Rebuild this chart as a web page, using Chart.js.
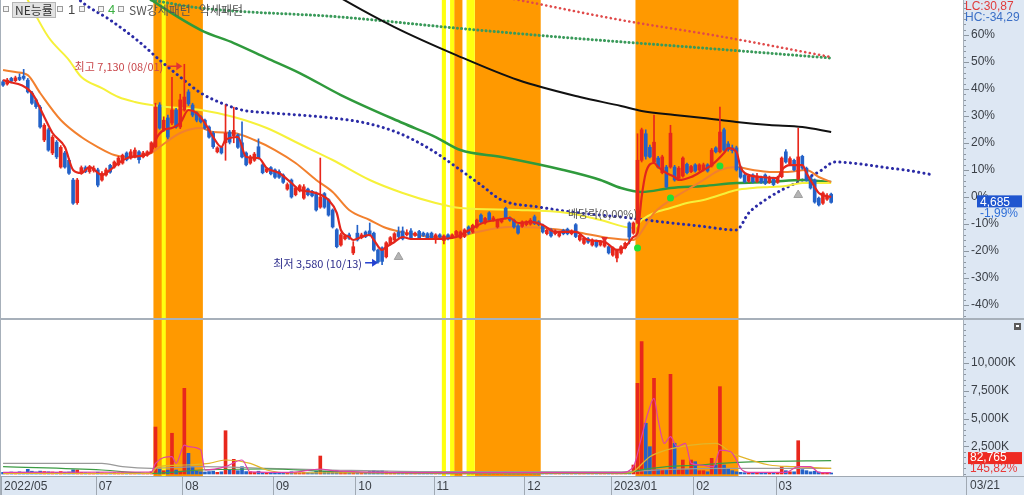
<!DOCTYPE html>
<html>
<head>
<meta charset="utf-8">
<script src="https://cdn.jsdelivr.net/npm/chart.js@4.4.0/dist/chart.umd.min.js"></script>
<style>
  html, body { margin: 0; padding: 0; background: #fff; width: 1024px; height: 495px; overflow: hidden; }
  canvas { position: absolute; left: 0; }
  #price { top: 0; }
  #volume { top: 319px; }
</style>
</head>
<body>
<canvas id="price" width="1024" height="319"></canvas>
<canvas id="volume" width="1024" height="176"></canvas>
<script>
// ---- data (prices in won, volume in thousand shares) ----
const BASE = 4780; // previous close = 0% of the price axis

const monthIdx = [0, 23, 44, 66, 86, 105, 127, 148, 168, 188];
const monthLabels = ['2022/05', '07', '08', '09', '10', '11', '12', '2023/01', '02', '03'];

const openP = [
  6820,6780,6880,6840,6900,6920,6850,6620,6500,6370,
  5790,5970,5560,5750,5310,5560,5430,5080,4680,5200,
  5300,5230,5250,5260,5080,5170,5340,5310,5350,5380,
  5560,5470,5490,5580,5490,5520,5580,5670,6410,5970,
  6180,6090,6320,6020,6320,6640,6410,6270,6200,6140,
  6020,5910,5580,5660,5740,5930,5860,5880,5740,5560,
  5380,5430,5670,5350,5230,5300,5260,5230,5170,4920,
  5080,4820,4890,4760,4920,4880,4850,4600,4840,4730,
  4550,4200,3930,4040,4110,3790,4140,4060,4160,4180,
  4140,3840,3880,3720,3950,4020,4160,4180,4110,4180,
  4100,4170,4140,4130,4140,4040,4110,4010,4110,4070,
  4100,4060,4080,4250,4160,4250,4460,4320,4500,4370,
  4250,4340,4580,4410,4370,4270,4260,4290,4300,4430,
  4340,4280,4130,4200,4130,4090,4190,4210,4130,4290,
  4020,3960,4040,3930,4000,3930,3910,3900,3750,3700,
  3790,3880,4320,4140,4330,5430,5900,5660,5400,5470,
  5210,5310,5310,5310,5110,5150,5360,5230,5350,5260,
  5260,5350,5330,5650,5580,5970,5720,5650,5650,5310,
  5170,5060,5170,5060,5130,5170,5040,5110,5040,5140,
  5580,5370,5430,5100,5500,5290,5130,5080,4760,4670,
  4740,4830
];
const highP = [
  6850,6880,6900,6920,6960,7040,6880,6650,6520,6400,
  6080,6000,5870,5780,5690,5590,5460,5110,5110,5330,
  5330,5340,5330,5290,5230,5290,5360,5420,5500,5540,
  5580,5620,5650,5600,5590,5600,5760,6440,6450,6200,
  6230,6900,6350,6600,7130,6680,6440,6290,6220,6160,
  6040,5940,5670,5680,6410,5960,6370,5900,6110,5580,
  5520,5570,5810,5370,5300,5320,5280,5260,5190,5030,
  5100,4970,5000,5000,4940,4900,4870,5470,4860,4750,
  4570,4220,4140,4110,4140,3990,4280,4140,4180,4320,
  4160,3860,3900,3990,4080,4150,4250,4250,4200,4220,
  4160,4190,4160,4150,4160,4130,4130,4110,4130,4130,
  4190,4180,4220,4270,4300,4390,4480,4420,4520,4440,
  4390,4400,4600,4430,4390,4290,4360,4360,4400,4460,
  4360,4300,4210,4220,4200,4170,4210,4230,4200,4310,
  4120,4070,4060,4040,4020,4010,4020,3920,3900,3860,
  3920,3980,4340,4340,5900,6000,5970,5700,6230,5500,
  5520,5340,6050,5340,5320,5490,5380,5340,5370,5370,
  5380,5370,5640,5670,6370,6000,5760,5700,5680,5330,
  5190,5170,5190,5200,5150,5190,5150,5130,5150,5490,
  5620,5490,5450,6000,5520,5310,5150,5100,4780,4870,
  4840,4850
];
const lowP = [
  6740,6760,6800,6820,6840,6850,6620,6420,6350,6000,
  5760,5590,5530,5460,5290,5290,5180,4650,4650,5180,
  5210,5200,5220,4960,5060,5150,5200,5290,5330,5360,
  5420,5450,5470,5380,5470,5500,5560,5650,5980,5940,
  5810,6060,6000,5990,6300,6400,6200,6110,6090,5980,
  5820,5640,5560,5540,5430,5720,5740,5640,5470,5330,
  5360,5410,5450,5190,5210,5170,5110,5110,5020,4900,
  4760,4800,4870,4740,4800,4780,4530,4580,4580,4440,
  4230,3880,3910,4020,4030,3760,4000,4040,4060,4090,
  3820,3610,3580,3700,3930,4000,4060,4020,4090,4030,
  4080,4040,4080,4040,4040,3960,4050,3950,4020,4050,
  4080,4040,4060,4120,4140,4230,4320,4300,4350,4350,
  4230,4320,4390,4350,4230,4120,4240,4270,4280,4290,
  4270,4140,4110,4070,4110,4070,4110,4110,4110,4060,
  4000,3940,3960,3910,3890,3910,3890,3770,3730,3630,
  3770,3860,3950,4120,4310,5400,5450,5470,5380,5290,
  5190,4940,5290,5060,5090,5130,5190,5210,5220,5240,
  5240,5220,5310,5560,5560,5590,5590,5560,5240,5110,
  5030,5040,5030,5040,5020,5000,5020,4980,5020,5120,
  5380,5350,5240,5080,5270,5060,4920,4670,4620,4650,
  4720,4670
];
const closeP = [
  6760,6850,6830,6890,6860,6880,6640,6440,6380,6020,
  6050,5610,5840,5490,5660,5310,5200,4670,5080,5300,
  5230,5310,5290,4990,5200,5260,5220,5400,5470,5520,
  5440,5580,5610,5440,5560,5580,5740,6370,6000,6140,
  5840,6320,6020,6500,6550,6430,6230,6140,6110,6000,
  5840,5670,5650,5560,5910,5750,5960,5660,5490,5350,
  5490,5540,5470,5210,5280,5190,5130,5130,5040,5000,
  4780,4940,4980,4960,4820,4800,4550,4780,4600,4460,
  4250,3900,4110,4090,4050,3900,4020,4110,4080,4110,
  3840,3630,3640,3970,4060,4130,4080,4040,4140,4050,
  4140,4060,4100,4060,4060,4110,4070,4090,4040,4110,
  4170,4160,4200,4140,4280,4370,4340,4400,4370,4410,
  4370,4380,4410,4370,4250,4140,4340,4340,4370,4310,
  4290,4160,4190,4090,4180,4150,4130,4130,4180,4080,
  4100,4050,3980,4020,3910,3990,4000,3790,3880,3840,
  3900,3960,4070,4320,5430,5970,5500,5490,5750,5310,
  5490,4960,5910,5080,5290,5470,5210,5320,5240,5350,
  5350,5240,5610,5580,5930,5610,5620,5600,5260,5130,
  5050,5150,5050,5150,5040,5020,5130,5000,5130,5470,
  5400,5460,5260,5490,5290,5080,4940,4690,4640,4850,
  4780,4685
];
const volK = [
  150,120,180,140,200,160,420,250,180,260,
  220,200,180,150,220,160,180,380,360,150,
  120,100,90,160,110,90,100,120,100,110,
  90,100,110,120,90,100,200,4230,420,300,
  350,3670,360,250,7720,1860,660,250,200,180,
  220,260,150,200,3900,360,1320,300,660,220,
  200,150,250,130,110,120,140,100,150,120,
  200,130,110,150,120,100,250,1620,250,180,
  220,300,200,150,130,180,160,120,150,220,
  300,260,280,200,150,130,120,110,100,120,
  90,110,100,90,120,100,110,130,100,90,
  110,120,130,110,150,140,120,160,130,110,
  100,120,180,110,120,140,100,90,110,130,
  120,100,90,110,100,120,90,100,130,110,
  90,100,120,140,110,100,130,150,160,120,
  110,130,150,810,8170,11920,4570,2460,8620,420,
  380,360,8980,2770,400,1260,400,1260,1110,300,
  300,200,1410,810,7870,810,510,300,200,150,
  120,100,130,110,90,100,120,110,100,660,
  300,200,200,3000,400,300,200,250,180,120,
  56.76,82.765
];

// moving averages / envelopes: [day index, won]
const ma5Pts = [[0,6851],[7,6621],[10,6196],[12,5913],[15,5665],[17,5258],[19,5205],[21,5311],[24,5169],[26,5258],[28,5382],[31,5488],[36,5577],[37,5789],[39,5966],[41,6001],[43,6090],[45,6320],[47,6267],[49,6090],[51,5842],[53,5665],[54,5790],[57,5842],[59,5488],[62,5470],[64,5293],[67,5205],[70,5028],[72,4904],[75,4869],[79,4727],[81,4497],[82,4196],[84,4072],[85,4019],[87,4072],[89,4107],[90,4019],[92,3842],[93,3895],[95,3984],[97,4072],[99,4036],[105,4036],[110,4072],[111,4107],[114,4231],[117,4338],[120,4373],[123,4408],[125,4320],[128,4338],[131,4284],[134,4161],[139,4161],[142,4019],[146,3984],[149,3842],[151,3895],[153,4072],[154,4143],[155,4780],[156,5205],[158,5382],[159,5311],[161,5205],[163,5134],[164,5081],[167,5134],[170,5258],[172,5346],[175,5559],[176,5647],[178,5577],[179,5311],[180,5205],[184,5134],[188,5116],[189,5258],[191,5346],[194,5346],[195,5205],[197,4957],[198,4851],[201,4780]];
const ma20Pts = [[0,7028],[3,6992],[6,6939],[9,6621],[14,6143],[19,5842],[23,5665],[27,5523],[30,5488],[36,5559],[38,5665],[43,5913],[48,6001],[51,5931],[56,5913],[61,5789],[66,5612],[71,5382],[76,5081],[80,4869],[84,4550],[89,4373],[93,4231],[98,4143],[105,4072],[110,4072],[114,4143],[123,4249],[131,4231],[139,4161],[147,4054],[153,4019],[154,4072],[158,4497],[162,4727],[166,4904],[170,5081],[174,5258],[178,5311],[182,5258],[186,5223],[190,5223],[195,5258],[198,5134],[201,5046]];
const ma60Pts = [[0,9100],[6,8267],[11,7612],[16,7205],[19,6904],[24,6709],[28,6550],[32,6462],[36,6408],[40,6373],[48,6320],[56,6196],[64,6001],[72,5718],[80,5435],[89,5081],[97,4851],[105,4674],[111,4585],[125,4550],[137,4497],[145,4373],[153,4231],[155,4373],[158,4497],[162,4585],[166,4674],[170,4727],[174,4815],[178,4904],[182,4939],[186,4957],[190,4975],[194,5028],[201,5028]];
const ma120Pts = [[30,8568],[36,8267],[48,7736],[56,7506],[64,7240],[72,6975],[82,6585],[97,6090],[105,5842],[111,5612],[121,5488],[136,5258],[145,5081],[150,4939],[155,4869],[162,4939],[170,4975],[178,5028],[186,5046],[194,5081],[201,5046]];
const ma240Pts = [[78,8479],[82,8302],[95,7789],[110,7293],[125,6851],[140,6550],[150,6391],[155,6302],[163,6231],[170,6178],[178,6108],[186,6054],[194,6019],[201,5931]];
const blueDotPts = [[17,8390],[19,8240],[26,7913],[33,7530],[38,7205],[43,6904],[48,6621],[53,6444],[58,6320],[65,6267],[72,6231],[80,6178],[88,6090],[96,5913],[104,5612],[111,5258],[116,4992],[121,4727],[130,4603],[140,4497],[150,4426],[160,4338],[169,4267],[178,4196],[181,4497],[185,4727],[189,4904],[193,5046],[198,5223],[202,5400],[206,5382],[210,5346],[215,5293],[219,5258],[226,5169]];
const redDotPts = [[124,8285],[150,7913],[175,7612],[201,7258]];
const greenDotPts = [[36,8267],[48,8125],[82,7966],[110,7771],[135,7612],[170,7417],[201,7240]];

// volume averages: [day index, thousand shares]
const vma5Pts = [[0,150],[36,180],[37,960],[41,1560],[42,960],[44,2610],[45,2460],[48,2160],[49,360],[54,660],[58,1260],[60,200],[70,150],[77,450],[80,300],[100,130],[150,130],[153,660],[155,3360],[156.5,5470],[158,6820],[159,4870],[160.5,2760],[162,3360],[163.6,2460],[165.6,2760],[167,960],[169.3,810],[172.5,660],[174,2160],[176.6,2010],[178,1260],[179,510],[181,150],[190,150],[193,660],[196,660],[198,150],[201,120]];
const vma20Pts = [[0,60],[36,60],[37.5,660],[44,810],[50,960],[54,1260],[60,960],[64,360],[70,100],[152,100],[153,210],[157,1560],[161,2160],[167,2610],[173,2760],[177,1860],[179,1560],[186,810],[192,660],[201,510]];
const vma60Pts = [[0,660],[24,360],[36,60],[48,360],[64,450],[80,210],[105,60],[152,60],[153,210],[161,660],[169,810],[177,1020],[183,1110],[201,1200]];
const vma120Pts = [[0,960],[24,960],[29,660],[36,510],[48,660],[64,510],[80,360],[105,210],[150,200],[160,400],[177,510],[201,510]];

// highlighted periods (day index ranges)
const orangeBands = [[37,48],[110,111],[115,130],[154,178]];
const yellowBands = [[39,39],[107,107],[109,109],[113,114]];

// signals
const greenSigIdx = [154, 162, 174];
const greenSigVal = [3877, 4762, 5329];
const grayArrowIdx = [96, 193];
const grayArrowVal = [3718, 4815];
const exDivIdx = [146];
const exDivVal = [4037];

// ---- drawing ----
const NUM_FONT = "'Liberation Sans Narrow','Liberation Sans','DejaVu Sans',sans-serif";
const KR_FONT = "'Noto Sans CJK KR','Noto Sans',sans-serif";
const UP = '#e8271c', DOWN = '#2462c8';
const PANEL_BG = '#dde7f3';
const X_MIN = -0.5, X_MAX = 233;

Chart.defaults.font.family = NUM_FONT;
Chart.defaults.font.size = 12;
Chart.defaults.color = '#3a3f46';
Chart.defaults.animation = false;

const last = closeP.length - 1;
const up = i => closeP[i] >= openP[i];
const toXY = arr => arr.map(([x, y]) => ({ x, y }));
const fmt = v => Math.round(v).toLocaleString('en-US');
const comma = s => s.replace('.', ',');

function line(pts, color, width, dash) {
  return {
    type: 'line', data: toXY(pts), borderColor: color, borderWidth: width,
    pointRadius: 0, cubicInterpolationMode: 'monotone', fill: false,
    borderDash: dash || [], borderCapStyle: dash ? 'round' : 'butt'
  };
}
function marks(idx, vals, style) {
  return Object.assign({
    type: 'line', showLine: false, data: idx.map((x, k) => ({ x, y: vals[k] }))
  }, style);
}
function noPad(s) { s.paddingTop = 0; s.paddingBottom = 0; s.paddingLeft = 0; s.paddingRight = 0; }

const bandPlugin = {
  id: 'bands',
  beforeDatasetsDraw(c) {
    const { ctx, chartArea: a, scales: { x } } = c;
    ctx.save();
    ctx.beginPath(); ctx.rect(a.left, a.top, a.width, a.height); ctx.clip();
    const paint = (list, color) => list.forEach(([s, e]) => {
      const l = x.getPixelForValue(s - 0.5), r = x.getPixelForValue(e + 0.5);
      ctx.fillStyle = color; ctx.fillRect(l, a.top, r - l, a.height);
    });
    paint(orangeBands, '#ff9900');
    paint(yellowBands, '#ffff10');
    ctx.restore();
  }
};

const panelPlugin = {
  id: 'panel',
  beforeDraw(c) {
    const { ctx, chartArea: a, width: w, height: h } = c;
    ctx.save();
    ctx.fillStyle = '#fff'; ctx.fillRect(0, 0, w, h);
    ctx.fillStyle = PANEL_BG; ctx.fillRect(a.right, 0, w - a.right, h);
    if (c.options.scales.x.display) ctx.fillRect(0, a.bottom, w, h - a.bottom);
    ctx.restore();
  },
  afterDraw(c) {
    const { ctx, chartArea: a, width: w, height: h } = c;
    const ys = c.scales.y;
    ctx.save();
    ctx.strokeStyle = '#8d96a0'; ctx.lineWidth = 1;
    ctx.beginPath();
    ys.ticks.forEach(t => {
      const y = Math.round(ys.getPixelForValue(t.value)) + 0.5;
      if (y < a.top || y > a.bottom) return;
      ctx.moveTo(a.right, y); ctx.lineTo(a.right + (t.label ? 6 : 3), y);
    });
    ctx.stroke();
    ctx.strokeStyle = '#a7b0ba';
    ctx.beginPath();
    const r = Math.round(a.right) + 0.5;
    ctx.moveTo(0.5, 0); ctx.lineTo(0.5, h);
    ctx.moveTo(r, 0); ctx.lineTo(r, c.options.scales.x.display ? a.bottom : h);
    ctx.stroke();
    ctx.restore();
  }
};

function arrow(ctx, x0, x1, y, color) {
  ctx.strokeStyle = color; ctx.fillStyle = color; ctx.lineWidth = 1.5;
  ctx.beginPath(); ctx.moveTo(x0, y); ctx.lineTo(x1 - 4, y); ctx.stroke();
  ctx.beginPath(); ctx.moveTo(x1, y); ctx.lineTo(x1 - 6, y - 4); ctx.lineTo(x1 - 6, y + 4); ctx.closePath(); ctx.fill();
}
function box(ctx, x, y, w, h) {
  ctx.fillStyle = '#f4f4f4'; ctx.strokeStyle = '#9a9a9a'; ctx.lineWidth = 1;
  ctx.fillRect(x + 0.5, y + 0.5, w, h); ctx.strokeRect(x + 0.5, y + 0.5, w, h);
}

const pricePlugin = {
  id: 'priceNotes',
  afterDraw(c) {
    const { ctx, chartArea: a, scales: { x, y } } = c;
    ctx.save();
    ctx.textBaseline = 'middle';

    // highest / lowest
    const hiVal = Math.max(...highP), hiIdx = highP.indexOf(hiVal);
    const loVal = Math.min(...lowP), loIdx = lowP.indexOf(loVal);
    const hx = x.getPixelForValue(hiIdx) - 2, hy = y.getPixelForValue(hiVal) + 2;
    arrow(ctx, hx - 15, hx, hy, '#e23333');
    ctx.font = '11px ' + KR_FONT; ctx.textAlign = 'right';
    ctx.fillStyle = '#c9474b';
    ctx.fillText('최고 ' + fmt(hiVal) + ' (08/01)', hx - 19, hy + 1);

    const lx = x.getPixelForValue(loIdx) - 4, ly = y.getPixelForValue(loVal) - 2;
    arrow(ctx, lx - 13, lx, ly, '#2340d0');
    ctx.fillStyle = '#2d2d8c';
    ctx.fillText('최저 ' + fmt(loVal) + ' (10/13)', lx - 16, ly + 1);

    ctx.textAlign = 'center';
    ctx.fillStyle = '#555';
    ctx.fillText('배당락(0,00%)', x.getPixelForValue(exDivIdx[0]) - 2, y.getPixelForValue(exDivVal[0]) - 25);

    // header
    ctx.textAlign = 'left';
    box(ctx, 3, 6, 5, 5);
    ctx.fillStyle = '#e2e2e2'; ctx.strokeStyle = '#b5b5b5';
    ctx.fillRect(12.5, 2.5, 43, 15); ctx.strokeRect(12.5, 2.5, 43, 15);
    ctx.font = '12px ' + KR_FONT; ctx.fillStyle = '#333';
    ctx.fillText('NE능률', 15, 10);
    box(ctx, 57, 6, 5, 5);
    ctx.font = '13px ' + NUM_FONT; ctx.fillStyle = '#444';
    ctx.fillText('1', 68, 10);
    box(ctx, 79, 6, 5, 5);
    box(ctx, 98, 6, 5, 5);
    ctx.fillStyle = '#3cb043'; ctx.fillText('4', 108, 10);
    box(ctx, 118, 6, 5, 5);
    ctx.font = '12px ' + KR_FONT; ctx.fillStyle = '#555';
    ctx.fillText('SW강세패턴', 129, 10);
    ctx.fillText('약세패턴', 199, 10);

    // right axis readouts
    ctx.font = '12px ' + NUM_FONT;
    ctx.fillStyle = '#e03c3c'; ctx.fillText('LC:30,87', a.right + 2, 7);
    ctx.fillStyle = '#3b6fc6'; ctx.fillText('HC:-34,29', a.right + 2, 18);
    const py = y.getPixelForValue(closeP[last]);
    ctx.fillStyle = '#1f55cf';
    ctx.fillRect(a.right + 14, py - 7, 45, 12);
    ctx.fillStyle = '#fff'; ctx.fillText(fmt(closeP[last]), a.right + 17, py);
    ctx.fillStyle = '#2f6fd8';
    ctx.fillText(comma(((closeP[last] / BASE - 1) * 100).toFixed(2)) + '%', a.right + 17, py + 11);

    // panel separator
    ctx.strokeStyle = '#a7b0ba'; ctx.lineWidth = 1;
    ctx.beginPath(); ctx.moveTo(0, c.height - 0.5); ctx.lineTo(c.width, c.height - 0.5); ctx.stroke();
    ctx.restore();
  }
};

const volPlugin = {
  id: 'volNotes',
  afterDraw(c) {
    const { ctx, chartArea: a, scales: { x, y }, width: w, height: h } = c;
    ctx.save();
    ctx.strokeStyle = '#a0a9b3'; ctx.lineWidth = 1;
    ctx.beginPath();
    ctx.moveTo(0, Math.round(a.bottom) + 0.5); ctx.lineTo(w, Math.round(a.bottom) + 0.5);
    x.ticks.forEach(t => {
      const px = Math.round(x.getPixelForValue(t.value)) + 0.5;
      ctx.moveTo(px, a.bottom); ctx.lineTo(px, h);
    });
    ctx.moveTo(Math.round(a.right) + 3.5, a.bottom); ctx.lineTo(Math.round(a.right) + 3.5, h);
    ctx.stroke();

    ctx.textBaseline = 'middle'; ctx.textAlign = 'left';
    ctx.font = '12px ' + NUM_FONT;
    ctx.fillStyle = '#3a3f46';
    ctx.fillText('03/21', a.right + 7, a.bottom + 10);

    const vy = y.getPixelForValue(volK[last]);
    ctx.fillStyle = '#ee2a22';
    ctx.fillRect(a.right + 5, vy - 21, 54, 12);
    ctx.fillStyle = '#fff';
    ctx.fillText(fmt(volK[last] * 1000), a.right + 7, vy - 15);
    ctx.fillStyle = '#e83a3a';
    ctx.fillText(comma((volK[last] / volK[last - 1] * 100).toFixed(2)) + '%', a.right + 7, vy - 4);

    ctx.fillStyle = '#5a5a5a'; ctx.fillRect(w - 10, 4, 7, 7);
    ctx.fillStyle = '#fff'; ctx.fillRect(w - 8, 6, 3, 2);

    ctx.strokeStyle = '#a7b0ba';
    ctx.beginPath(); ctx.moveTo(0, 0.5); ctx.lineTo(w, 0.5); ctx.stroke();
    ctx.restore();
  }
};

const idx = closeP.map((_, i) => i);
const candleColors = idx.map(i => up(i) ? UP : DOWN);

new Chart(document.getElementById('price'), {
  type: 'bar',
  data: {
    datasets: [
      marks(greenSigIdx, greenSigVal, { pointRadius: 3.5, pointBackgroundColor: '#22e035', pointBorderWidth: 0 }),
      marks(grayArrowIdx, grayArrowVal, { pointStyle: 'triangle', pointRadius: 5, pointBackgroundColor: '#b4b4b4', pointBorderColor: '#a0a0a0', pointBorderWidth: 1 }),
      marks(exDivIdx, exDivVal, { pointStyle: 'triangle', rotation: 180, pointRadius: 4, pointBackgroundColor: '#e22b2b', pointBorderWidth: 0 }),
      line(ma5Pts, '#e3261c', 2.2),
      { data: idx.map(i => ({ x: i, y: [lowP[i], highP[i]] })), backgroundColor: candleColors, barThickness: 1, grouped: false },
      { data: idx.map(i => ({ x: i, y: [openP[i], closeP[i]] })), backgroundColor: candleColors, barThickness: 3, grouped: false, minBarLength: 1 },
      line(ma20Pts, '#f2802e', 2),
      line(ma60Pts, '#f6f13a', 2),
      line(ma120Pts, '#2f9a3c', 2.5),
      line(ma240Pts, '#111111', 2),
      line(blueDotPts, '#2b2ba6', 3, [0.1, 5.2]),
      line(redDotPts, '#e04a4a', 2.6, [0.1, 4.6]),
      line(greenDotPts, '#3a9a5a', 3, [0.1, 4])
    ]
  },
  options: {
    responsive: false,
    layout: { padding: { left: 1, right: 0, top: 0, bottom: 0 }, autoPadding: false },
    plugins: { legend: { display: false }, tooltip: { enabled: false } },
    scales: {
      x: { type: 'linear', min: X_MIN, max: X_MAX, display: false, offset: false },
      y: {
        position: 'right', min: 2620, max: 8268,
        afterBuildTicks: s => {
          const t = [];
          for (let p = -44; p <= 72; p += 2) t.push({ value: BASE * (1 + p / 100) });
          s.ticks = t;
        },
        afterFit: s => { s.width = 61; noPad(s); },
        ticks: {
          autoSkip: false, padding: 8,
          callback: v => {
            const p = Math.round((v / BASE - 1) * 100);
            return (p % 10 === 0 && p <= 60 && p >= -40) ? (p === 0 ? 0 : p) + '%' : '';
          }
        },
        grid: { display: false, drawTicks: false },
        border: { display: false }
      }
    }
  },
  plugins: [panelPlugin, bandPlugin, pricePlugin]
});

new Chart(document.getElementById('volume'), {
  type: 'bar',
  data: {
    datasets: [
      line(vma5Pts, '#e040a8', 1.2),
      line(vma20Pts, '#e2b52a', 1.2),
      line(vma60Pts, '#3c9c44', 1.2),
      line(vma120Pts, '#9a9a9a', 1.2),
      { data: idx.map(i => ({ x: i, y: volK[i] })), backgroundColor: candleColors, barThickness: 3, grouped: false, minBarLength: 1 }
    ]
  },
  options: {
    responsive: false,
    layout: { padding: { left: 1, right: 0, top: 1, bottom: 0 }, autoPadding: false },
    plugins: { legend: { display: false }, tooltip: { enabled: false } },
    scales: {
      x: {
        type: 'linear', min: X_MIN, max: X_MAX, offset: false,
        afterBuildTicks: s => { s.ticks = monthIdx.map(i => ({ value: i - 0.5 })); },
        afterFit: s => { s.height = 19; noPad(s); },
        ticks: { autoSkip: false, maxRotation: 0, align: 'start', labelOffset: 3, padding: 3, callback: (v, i) => monthLabels[i] },
        grid: { display: false, drawTicks: false },
        border: { display: false }
      },
      y: {
        position: 'right', min: -180, max: 13874,
        afterBuildTicks: s => {
          const t = [];
          for (let v = 0; v <= 13500; v += 500) t.push({ value: v });
          s.ticks = t;
        },
        afterFit: s => { s.width = 61; noPad(s); },
        ticks: {
          autoSkip: false, padding: 8,
          callback: v => (v > 0 && v <= 10000 && v % 2500 === 0) ? fmt(v) + 'K' : ''
        },
        grid: { display: false, drawTicks: false },
        border: { display: false }
      }
    }
  },
  plugins: [panelPlugin, bandPlugin, volPlugin]
});
</script>
</body>
</html>
